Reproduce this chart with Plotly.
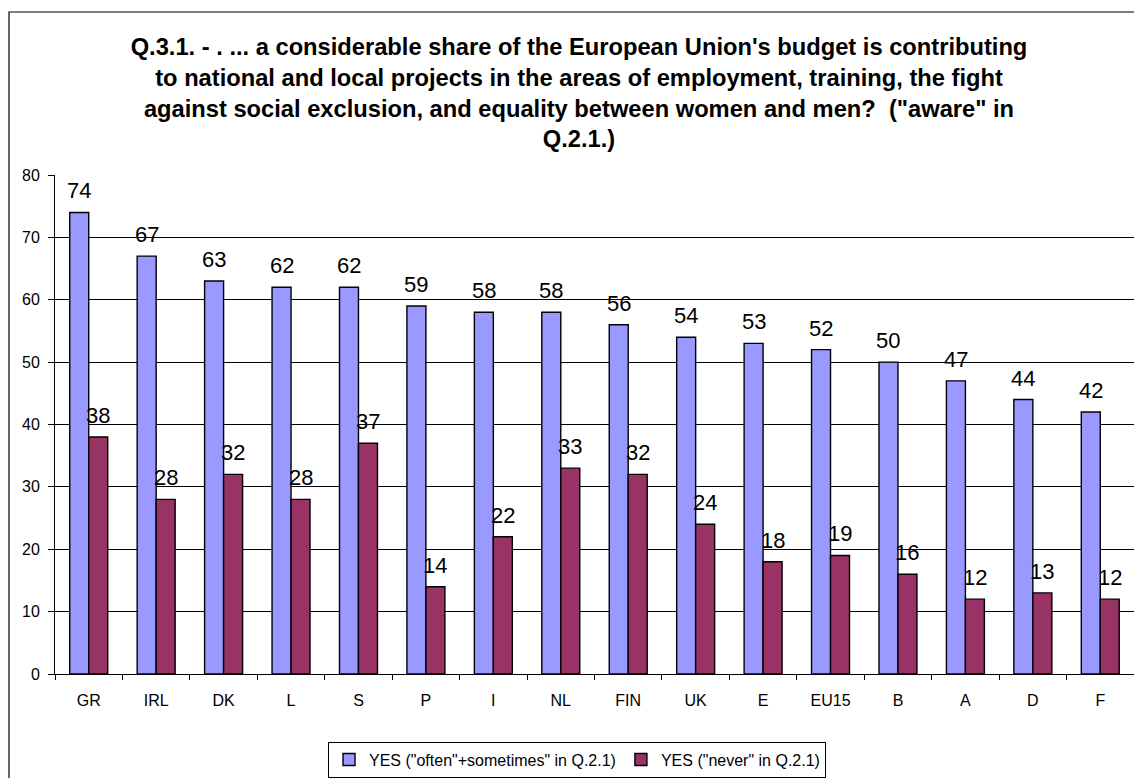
import plotly.graph_objects as go

# Survey results by country
countries = ["GR", "IRL", "DK", "L", "S", "P", "I", "NL", "FIN", "UK",
             "E", "EU15", "B", "A", "D", "F"]
yes_often = [74, 67, 63, 62, 62, 59, 58, 58, 56, 54, 53, 52, 50, 47, 44, 42]
yes_never = [38, 28, 32, 28, 37, 14, 22, 33, 32, 24, 18, 19, 16, 12, 13, 12]

series_names = ['YES ("often"+sometimes" in Q.2.1)', 'YES ("never" in Q.2.1)']
series_colors = ["#9999FF", "#993366"]

title_text = ("<b>Q.3.1. - . ... a considerable share of the European Union's budget is contributing<br>"
              "to national and local projects in the areas of employment, training, the fight<br>"
              "against social exclusion, and equality between women and men?  (\"aware\" in<br>"
              "Q.2.1.)</b>")

W, H = 1134, 778
L_M, R_M, T_M, B_M = 55, 0, 175, 101
BARGAP = 0.437

fig = go.Figure()
for name, vals, col in zip(series_names, [yes_often, yes_never], series_colors):
    fig.add_trace(go.Bar(
        x=countries, y=vals, name=name,
        marker=dict(color=col, line=dict(color="#000000", width=1.4)),
    ))

# value labels centred over each bar of the group
half = (1 - BARGAP) / 4
annotations = []
for i in range(len(countries)):
    for vals, off in ((yes_often, -half), (yes_never, half)):
        annotations.append(dict(
            x=i + off, y=vals[i], xref="x", yref="y",
            text=str(vals[i]), showarrow=False,
            yanchor="bottom", xanchor="center", yshift=7,
            font=dict(family="Arial, Liberation Sans, sans-serif", size=22, color="#000"),
        ))

# outer chart frame
px_w = W - L_M - R_M
px_h = H - T_M - B_M
frame = dict(
    type="rect", xref="paper", yref="paper", layer="below",
    x0=(9 - L_M) / px_w, x1=(W + 20 - L_M) / px_w,
    y0=-(H + 20 - (H - B_M)) / px_h, y1=((H - B_M) - 11) / px_h,
    line=dict(color="#000", width=1.2), fillcolor="rgba(0,0,0,0)",
)

fig.update_layout(
    width=W, height=H,
    margin=dict(l=L_M, r=R_M, t=T_M, b=B_M, pad=0),
    paper_bgcolor="white", plot_bgcolor="white",
    font=dict(family="Arial, Liberation Sans, sans-serif", color="#000", size=16),
    barmode="group", bargap=BARGAP, bargroupgap=0,
    title=dict(text=title_text, x=579 / W, xanchor="center",
               y=1 - 55 / H, yanchor="top", yref="container",
               font=dict(size=23.7, color="#000")),
    xaxis=dict(showline=True, linecolor="#000", linewidth=1,
               ticks="outside", tickson="boundaries", ticklen=5, tickcolor="#000",
               tickfont=dict(size=16), showgrid=False, ticklabelstandoff=12),
    yaxis=dict(range=[0, 80], dtick=10, showline=True, linecolor="#000", linewidth=1,
               ticks="outside", ticklen=6, tickcolor="#000",
               showgrid=True, gridcolor="#000", gridwidth=1,
               tickfont=dict(size=16), zeroline=False, ticklabelstandoff=5),
    legend=dict(orientation="h", x=(577 - L_M) / px_w, xanchor="center",
                y=-(745 - (H - B_M)) / px_h, yanchor="top",
                bordercolor="#000", borderwidth=1, font=dict(size=16),
                traceorder="normal", itemwidth=30),
    annotations=annotations,
    shapes=[frame],
    showlegend=True,
)

fig.write_html("out.html")
